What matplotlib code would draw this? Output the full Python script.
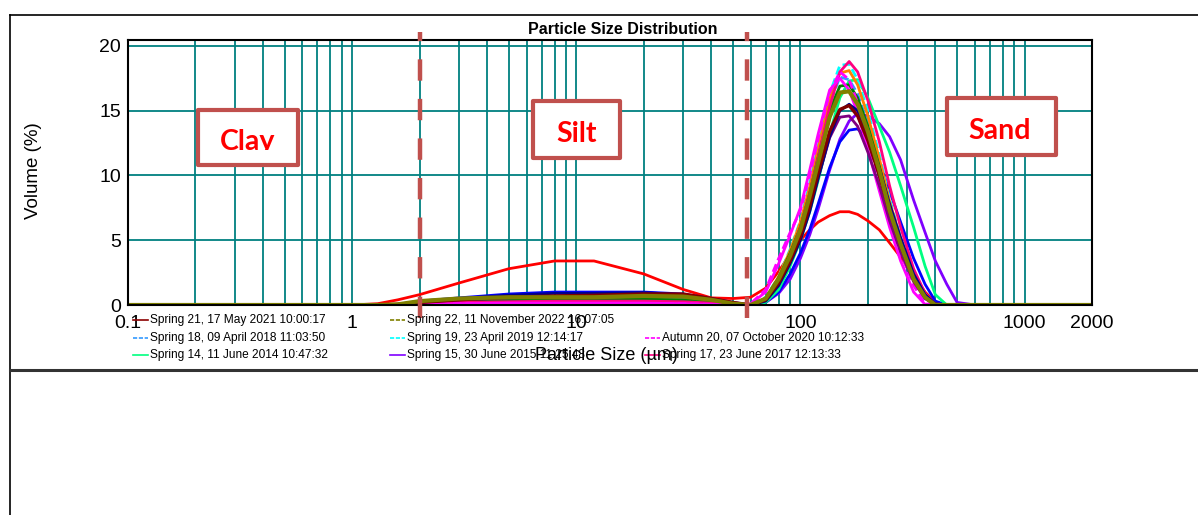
import matplotlib.pyplot as plt
from matplotlib.lines import Line2D
from matplotlib.patches import Rectangle
from matplotlib.ticker import LogLocator, NullFormatter
from matplotlib.transforms import Bbox, TransformedBbox

W, H = 1198, 515

# particle size bins (um): clay/silt part, then sand part
sizes = [0.1, 1.0, 1.3, 1.6, 2.0, 3.0, 5.0, 8.0, 12, 20, 30, 40, 50,
         60, 70, 80, 90, 100, 110, 120, 135, 150, 165, 180, 200, 225, 250, 280, 320, 360, 400, 450, 500, 600, 2000]

# volume % for each sample
red = [0, 0, 0.1, 0.4, 0.8, 1.7, 2.8, 3.4, 3.4, 2.4, 1.2, 0.55, 0.5,
       0.6, 1.3, 2.6, 3.9, 5.0, 5.8, 6.4, 6.9, 7.2, 7.2, 7.0, 6.5, 5.8, 4.8, 3.7, 2.3, 1.0, 0.2, 0, 0, 0, 0]
violet = [0, 0, 0, 0, 0.15, 0.3, 0.45, 0.5, 0.5, 0.55, 0.5, 0.3, 0.1,
          0, 0.2, 0.9, 2.0, 3.6, 5.4, 7.4, 10.4, 12.8, 14.2, 14.8, 14.6, 14.0, 13.0, 11.2, 8.1, 5.6, 3.4, 1.6, 0.2, 0, 0]
blue = [0, 0, 0, 0.05, 0.3, 0.55, 0.85, 1.0, 1.0, 1.0, 0.85, 0.5, 0.2,
        0, 0.2, 1.0, 2.4, 4.0, 5.8, 7.8, 10.6, 12.6, 13.5, 13.6, 12.8, 11.0, 8.8, 6.4, 3.6, 1.6, 0.3, 0, 0, 0, 0]
springgreen = [0, 0, 0, 0, 0.15, 0.3, 0.4, 0.45, 0.45, 0.5, 0.45, 0.3, 0.1,
               0, 0.2, 1.2, 3.0, 5.0, 7.2, 9.6, 13.2, 16.0, 17.3, 17.4, 16.0, 13.8, 11.8, 9.2, 6.0, 3.0, 0.8, 0, 0, 0, 0]
cyan = [0, 0, 0, 0, 0.15, 0.3, 0.35, 0.4, 0.4, 0.45, 0.4, 0.25, 0.05,
        0, 0.6, 2.2, 4.3, 6.5, 9.4, 12.3, 16.3, 18.5, 18.6, 17.4, 15.0, 11.6, 8.2, 5.2, 2.2, 0.6, 0, 0, 0, 0, 0]
dodger = [0, 0, 0, 0.05, 0.2, 0.35, 0.4, 0.4, 0.4, 0.45, 0.45, 0.3, 0.1,
          0, 0.5, 2.1, 4.1, 6.2, 8.9, 11.7, 15.5, 17.6, 17.4, 16.3, 14.0, 10.8, 7.6, 4.8, 1.9, 0.5, 0, 0, 0, 0, 0]
orange = [0, 0, 0, 0, 0.1, 0.25, 0.3, 0.35, 0.35, 0.4, 0.35, 0.2, 0.05,
          0, 0.5, 2.2, 4.2, 6.4, 9.1, 12.1, 15.9, 17.9, 18.1, 17.0, 14.6, 11.3, 8.0, 5.1, 2.2, 0.6, 0, 0, 0, 0, 0]
green = [0, 0, 0, 0, 0.1, 0.25, 0.35, 0.4, 0.4, 0.45, 0.4, 0.25, 0.05,
         0, 0.5, 2.1, 4.0, 6.0, 8.6, 11.4, 15.0, 16.9, 17.0, 16.0, 13.8, 10.7, 7.6, 4.8, 2.1, 0.6, 0, 0, 0, 0, 0]
pink = [0, 0, 0, 0, 0.1, 0.2, 0.25, 0.3, 0.3, 0.3, 0.25, 0.15, 0.05,
        0, 0.4, 1.8, 3.8, 6.0, 8.6, 11.4, 15.3, 18.0, 18.8, 18.0, 15.8, 12.6, 9.2, 6.0, 2.8, 0.9, 0.1, 0, 0, 0, 0]
magenta = [0, 0, 0, 0, 0.05, 0.1, 0.15, 0.15, 0.15, 0.15, 0.1, 0.05, 0,
           0.1, 1.0, 3.2, 5.4, 7.5, 10.4, 13.2, 16.6, 17.5, 16.6, 14.8, 12.0, 8.8, 6.0, 3.4, 1.0, 0.05, 0, 0, 0, 0, 0]
magenta_dash = [0, 0, 0, 0, 0.05, 0.1, 0.1, 0.1, 0.1, 0.1, 0.1, 0.05, 0,
                0.1, 1.2, 3.6, 5.6, 7.3, 10.0, 12.8, 16.4, 18.0, 17.4, 15.6, 12.6, 9.4, 6.6, 4.0, 1.5, 0.1, 0, 0, 0, 0, 0]
purple = [0, 0, 0, 0.05, 0.2, 0.4, 0.55, 0.65, 0.65, 0.75, 0.7, 0.4, 0.1,
          0, 0.4, 1.8, 3.4, 5.2, 7.4, 9.8, 12.9, 14.5, 14.6, 13.8, 11.8, 9.2, 6.5, 4.1, 1.8, 0.5, 0, 0, 0, 0, 0]
navy = [0, 0, 0, 0.05, 0.25, 0.5, 0.75, 0.9, 0.9, 0.95, 0.8, 0.45, 0.15,
        0, 0.3, 1.5, 3.2, 5.0, 7.2, 9.8, 13.0, 15.0, 15.5, 15.0, 13.2, 10.6, 7.8, 5.2, 2.4, 0.8, 0.1, 0, 0, 0, 0]
maroon = [0, 0, 0, 0.05, 0.2, 0.4, 0.6, 0.7, 0.75, 0.85, 0.85, 0.5, 0.2,
          0, 0.4, 1.7, 3.4, 5.3, 7.6, 10.2, 13.4, 15.1, 15.4, 14.6, 12.7, 10.0, 7.2, 4.6, 2.0, 0.6, 0, 0, 0, 0, 0]
olive = [0, 0, 0, 0.05, 0.3, 0.5, 0.6, 0.6, 0.6, 0.7, 0.65, 0.4, 0.1,
         0, 0.5, 2.0, 3.8, 5.8, 8.4, 11.0, 14.5, 16.4, 16.5, 15.5, 13.4, 10.4, 7.3, 4.7, 2.0, 0.6, 0, 0, 0, 0, 0]

series = [
    (red, '#FF0000', '-', 2.0),
    (violet, '#8000FF', '-', 2.0),
    (blue, '#0000FF', '-', 2.0),
    (springgreen, '#00FF80', '-', 2.0),
    (cyan, '#00FFFF', '--', 2.0),
    (dodger, '#3399FF', '--', 2.0),
    (orange, '#FF8000', '-', 2.0),
    (green, '#008000', '-', 2.0),
    (pink, '#FF0080', '-', 2.0),
    (magenta, '#FF00FF', '-', 2.0),
    (magenta_dash, '#FF00FF', '--', 2.0),
    (purple, '#800080', '-', 2.0),
    (navy, '#00008B', '-', 2.0),
    (maroon, '#800000', '-', 2.4),
    (olive, '#808000', '-', 3.0),
]

boundaries = [2, 58]
xticks = [0.1, 1, 10, 100, 1000, 2000]
xtick_labels = ['0.1', '1', '10', '100', '1000', '2000']
yticks = [0, 5, 10, 15, 20]

legend_names = ['Spring 21, 17 May 2021 10:00:17', 'Spring 22, 11 November 2022 16:07:05',
                'Spring 18, 09 April 2018 11:03:50', 'Spring 19, 23 April 2019 12:14:17',
                'Autumn 20, 07 October 2020 10:12:33', 'Spring 14, 11 June 2014 10:47:32',
                'Spring 15, 30 June 2015 11:25:48', 'Spring 17, 23 June 2017 12:13:33']
legend_colors = ['#8B0000', '#808000', '#3399FF', '#00FFFF', '#FF00FF', '#00FF80', '#8000FF', '#FF0080']
legend_styles = ['-', '--', '--', '--', '--', '-', '-', '-']
legend_slots = [(0, 0), (0, 1), (1, 0), (1, 1), (1, 2), (2, 0), (2, 1), (2, 2)]

FONT = ['Liberation Sans', 'DejaVu Sans']


def fx(x):
    return x / W


def fy(y):
    return 1 - y / H


fig = plt.figure(figsize=(W / 100, H / 100), dpi=100)
ax = fig.add_axes([fx(128), fy(305), 964 / W, 265 / H])

for vals, col, ls, lw in series:
    ax.plot(sizes, vals, color=col, linestyle=ls, lw=lw, dashes=(3, 1.5) if ls == '--' else (None, None))

for b in boundaries:
    ax.plot([b, b], [-1.0, 21.1], color='#C0504D', lw=3.2, dashes=(4.8, 4.1), clip_on=False, zorder=5)

ax.set_xscale('log')
ax.set_xlim(0.1, 2000)
ax.set_ylim(0, 20.46)
ax.set_xticks(xticks)
ax.set_xticklabels(xtick_labels)
ax.xaxis.set_minor_locator(LogLocator(base=10, subs=range(2, 10)))
ax.xaxis.set_minor_formatter(NullFormatter())
ax.set_yticks(yticks)
ax.grid(True, which='both', axis='x', color='#008080', lw=1.3)
ax.grid(True, which='major', axis='y', color='#008080', lw=1.3)
ax.set_axisbelow(True)
ax.tick_params(which='both', length=0, labelsize=14, pad=5)
ax.tick_params(axis='x', pad=7)
for lab in ax.get_xticklabels() + ax.get_yticklabels():
    lab.set_family(FONT)
for s in ax.spines.values():
    s.set_linewidth(1.5)
    s.set_color('black')

fig.text(fx(623), fy(30), 'Particle Size Distribution', ha='center', va='center',
         fontsize=11.5, fontweight='bold', family=FONT)
fig.text(fx(34), fy(171), 'Volume (%)', ha='center', va='center', rotation=90,
         fontsize=13.5, family=FONT)

# legend drawn by hand (three columns)
col_x = [133, 390, 645]
row_y = [320, 338, 355]
for name, col, ls, (r, c) in zip(legend_names, legend_colors, legend_styles, legend_slots):
    x0 = col_x[c]
    y0 = row_y[r]
    fig.add_artist(Line2D([fx(x0), fx(x0 + 15)], [fy(y0), fy(y0)], color=col, lw=1.2,
                          linestyle=ls, dashes=(2.5, 1) if ls == '--' else (None, None)))
    fig.text(fx(x0 + 17), fy(y0), name, ha='left', va='center', fontsize=8.6, family=FONT)

fig.text(fx(606), fy(355), 'Particle Size (\u00b5m)', ha='center', va='center',
         fontsize=13, family=FONT)

# class boxes
boxes = [('Clay', 198, 110, 298, 165, 248, 142),
         ('Silt', 533, 101, 620, 158, 577, 134),
         ('Sand', 947, 98, 1056, 155, 1000, 131)]
for label, x0, y0, x1, y1, tx, ty in boxes:
    fig.add_artist(Rectangle((fx(x0), fy(y1)), (x1 - x0) / W, (y1 - y0) / H,
                             facecolor='white', edgecolor='#C0504D', lw=3, joinstyle='round', zorder=6))
    t = fig.text(fx(tx), fy(ty), label, ha='center', va='center', color='#FF0000',
                 fontsize=20.5, fontweight='bold', family=['Lato', 'DejaVu Sans'], zorder=7)
    # the text is cut at its baseline inside the box, as in the source
    clip = Bbox([[fx(x0), fy(ty + 8)], [fx(x1), fy(y0)]])
    t.set_clip_box(TransformedBbox(clip, fig.transFigure))
    t.set_clip_on(True)

# page frame lines
fig.add_artist(Line2D([fx(10), 1], [fy(15), fy(15)], color='black', lw=1.2))
fig.add_artist(Line2D([fx(10), fx(10)], [fy(15), 0], color='black', lw=1.2))
fig.add_artist(Line2D([fx(10), 1], [fy(370), fy(370)], color='#333333', lw=2.2))

fig.savefig('out.png', dpi=100)
